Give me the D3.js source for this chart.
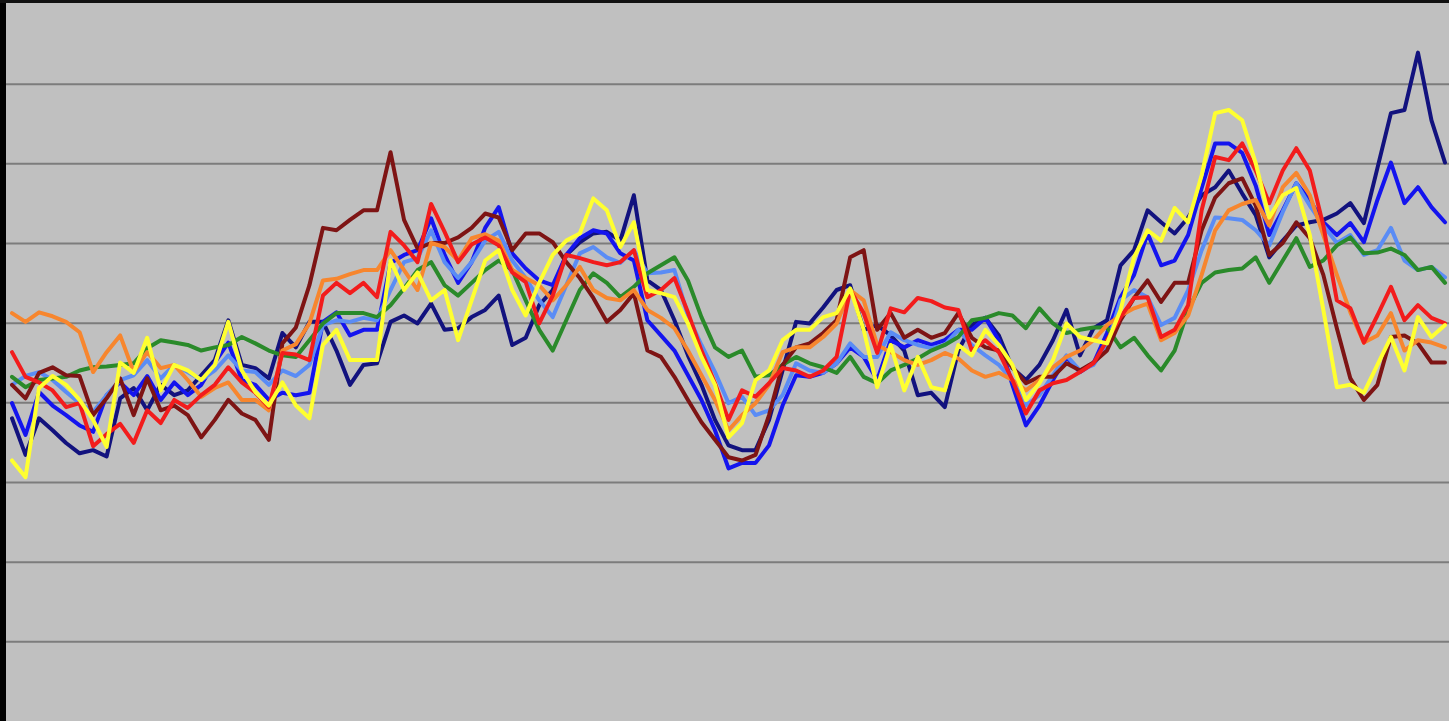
<!DOCTYPE html>
<html><head><meta charset="utf-8">
<script src="https://cdn.jsdelivr.net/npm/d3@7"></script>
<style>html,body{margin:0;padding:0;background:#c0c0c0;overflow:hidden}</style>
</head><body>
<svg id="chart" width="1449" height="721"></svg>
<script>
const gridValues = [1,2,3,4,5,6,7,8];
const seriesNames = ["navy","blue","lightblue","green","darkred","orange","red","yellow"];
const seriesColors = ["#12127e","#1414ee","#5a8cf5","#2a8a2a","#7e1414","#f7862e","#f21c1c","#ffff30"];

const navy = [3.80,3.34,3.80,3.65,3.49,3.36,3.40,3.32,4.05,4.18,3.90,4.22,4.09,4.15,4.34,4.53,5.03,4.47,4.43,4.30,4.87,4.69,5.01,5.01,4.65,4.22,4.47,4.49,5.01,5.09,4.99,5.24,4.91,4.93,5.07,5.16,5.34,4.72,4.81,5.22,5.41,5.85,6.01,6.12,6.14,6.03,6.60,5.53,5.41,5.03,4.59,4.22,3.78,3.46,3.40,3.40,3.78,4.40,5.01,4.99,5.19,5.41,5.47,4.91,4.97,4.84,4.65,4.09,4.12,3.94,4.65,4.97,5.06,4.84,4.43,4.28,4.47,4.78,5.16,4.59,4.93,5.03,5.72,5.91,6.41,6.26,6.12,6.32,6.60,6.70,6.91,6.62,6.35,5.82,6.03,6.22,6.26,6.29,6.37,6.50,6.25,6.94,7.63,7.67,8.39,7.54,7.01];
const blue = [3.99,3.59,4.13,3.96,3.84,3.71,3.63,4.09,4.25,4.09,4.33,4.03,4.25,4.09,4.22,4.50,4.75,4.28,4.22,4.03,4.12,4.09,4.12,5.01,5.13,4.84,4.91,4.91,5.75,5.85,5.91,6.31,5.85,5.50,5.76,6.19,6.45,5.87,5.68,5.53,5.47,5.85,6.06,6.16,6.12,5.87,5.78,5.03,4.84,4.65,4.34,4.03,3.65,3.17,3.24,3.24,3.46,3.96,4.34,4.32,4.37,4.49,4.69,4.57,4.28,4.78,4.69,4.78,4.72,4.78,4.91,4.91,5.06,4.78,4.22,3.71,3.96,4.28,4.57,4.38,4.49,4.87,5.32,5.60,6.12,5.72,5.78,6.10,6.69,7.25,7.25,7.13,6.72,6.10,6.41,6.75,6.54,6.26,6.10,6.25,6.01,6.54,7.01,6.50,6.70,6.45,6.26];
const lightblue = [4.22,4.33,4.38,4.28,4.13,3.99,3.88,4.09,4.28,4.34,4.53,4.30,4.47,4.38,4.28,4.40,4.59,4.40,4.38,4.22,4.40,4.33,4.47,4.97,5.03,5.01,5.06,5.03,5.41,5.76,5.81,6.16,5.76,5.56,5.76,6.03,6.14,5.78,5.56,5.28,5.07,5.47,5.87,5.95,5.82,5.75,5.91,5.62,5.63,5.66,5.09,4.72,4.38,3.99,4.07,3.84,3.90,4.09,4.49,4.40,4.37,4.49,4.74,4.57,4.57,4.88,4.78,4.72,4.68,4.72,4.91,4.72,4.59,4.47,4.28,3.96,4.09,4.34,4.59,4.40,4.47,4.72,5.28,5.41,5.32,4.97,5.06,5.41,5.91,6.32,6.31,6.29,6.16,5.97,6.39,6.75,6.47,6.22,6.00,6.10,5.85,5.91,6.19,5.78,5.66,5.70,5.57];
const green = [4.32,4.19,4.28,4.30,4.32,4.40,4.44,4.45,4.47,4.49,4.68,4.78,4.75,4.72,4.65,4.69,4.72,4.82,4.74,4.65,4.59,4.57,4.78,4.99,5.12,5.12,5.12,5.07,5.22,5.43,5.66,5.76,5.47,5.34,5.50,5.66,5.78,5.66,5.28,4.91,4.65,5.03,5.41,5.62,5.50,5.32,5.45,5.62,5.72,5.82,5.53,5.07,4.69,4.57,4.65,4.32,4.34,4.47,4.57,4.49,4.44,4.37,4.57,4.32,4.24,4.40,4.47,4.55,4.65,4.72,4.82,5.03,5.06,5.12,5.09,4.93,5.18,4.99,4.87,4.91,4.94,4.94,4.69,4.81,4.59,4.40,4.65,5.16,5.50,5.63,5.66,5.68,5.82,5.50,5.78,6.06,5.70,5.78,5.97,6.07,5.87,5.88,5.93,5.85,5.66,5.70,5.50];
const darkred = [4.22,4.05,4.37,4.44,4.34,4.33,3.84,4.05,4.30,3.84,4.30,3.90,3.96,3.84,3.56,3.78,4.03,3.86,3.78,3.53,4.74,4.94,5.47,6.19,6.16,6.29,6.41,6.41,7.14,6.29,5.93,6.00,6.00,6.07,6.19,6.37,6.32,5.91,6.12,6.12,6.01,5.76,5.56,5.31,5.01,5.16,5.37,4.65,4.57,4.32,4.03,3.75,3.53,3.31,3.27,3.34,3.84,4.47,4.69,4.74,4.87,5.03,5.82,5.91,4.91,5.12,4.81,4.91,4.81,4.87,5.12,4.81,4.69,4.65,4.44,4.24,4.32,4.32,4.49,4.40,4.50,4.65,5.03,5.31,5.53,5.26,5.50,5.50,6.16,6.57,6.75,6.81,6.47,5.85,6.00,6.26,6.06,5.60,4.93,4.30,4.03,4.22,4.82,4.84,4.74,4.50,4.50];
const orange = [5.12,5.01,5.13,5.08,5.01,4.88,4.38,4.63,4.84,4.38,4.63,4.43,4.47,4.28,4.07,4.18,4.25,4.03,4.03,3.90,4.65,4.73,4.99,5.53,5.55,5.61,5.66,5.66,5.91,5.66,5.41,6.00,5.95,5.78,6.06,6.11,6.03,5.66,5.56,5.47,5.28,5.47,5.70,5.41,5.31,5.28,5.41,5.16,5.06,4.93,4.65,4.34,4.03,3.65,3.84,3.99,4.22,4.63,4.69,4.69,4.82,4.99,5.41,5.28,4.72,4.63,4.53,4.47,4.53,4.62,4.55,4.40,4.32,4.37,4.28,4.15,4.28,4.44,4.57,4.65,4.78,4.97,5.09,5.18,5.24,4.78,4.87,5.09,5.60,6.16,6.41,6.49,6.54,6.22,6.70,6.88,6.60,6.10,5.60,5.13,4.75,4.84,5.12,4.65,4.78,4.75,4.69];
const red = [4.63,4.32,4.25,4.15,3.94,3.99,3.45,3.60,3.73,3.49,3.90,3.74,4.03,3.93,4.09,4.22,4.44,4.25,4.12,3.94,4.62,4.60,4.53,5.34,5.50,5.37,5.50,5.32,6.14,5.97,5.76,6.49,6.14,5.76,5.98,6.07,5.97,5.63,5.51,4.99,5.34,5.85,5.81,5.76,5.72,5.76,5.91,5.32,5.41,5.56,5.13,4.65,4.24,3.78,4.15,4.07,4.24,4.43,4.40,4.32,4.40,4.57,5.41,5.12,4.62,5.18,5.13,5.31,5.27,5.19,5.16,4.65,4.78,4.63,4.28,3.86,4.15,4.24,4.28,4.38,4.49,4.78,5.07,5.31,5.32,4.82,4.91,5.22,6.41,7.08,7.04,7.25,6.91,6.50,6.91,7.19,6.91,6.22,5.28,5.18,4.75,5.09,5.45,5.03,5.22,5.06,4.99];
const yellow = [3.27,3.06,4.18,4.33,4.22,4.03,3.78,3.44,4.50,4.37,4.81,4.15,4.47,4.40,4.28,4.47,5.01,4.40,4.13,3.96,4.25,3.96,3.80,4.72,4.91,4.53,4.53,4.53,5.78,5.41,5.63,5.28,5.41,4.78,5.28,5.78,5.91,5.41,5.09,5.50,5.85,6.03,6.12,6.56,6.41,5.95,6.26,5.41,5.37,5.32,4.99,4.57,4.22,3.56,3.74,4.28,4.40,4.78,4.91,4.91,5.07,5.12,5.43,4.91,4.19,4.72,4.15,4.57,4.19,4.15,4.72,4.59,4.91,4.72,4.47,4.03,4.24,4.53,4.99,4.82,4.78,4.74,5.16,5.82,6.16,6.03,6.44,6.26,6.85,7.63,7.67,7.54,7.00,6.32,6.60,6.69,6.10,5.16,4.19,4.22,4.12,4.47,4.82,4.40,5.07,4.82,4.97];

const seriesData = [navy, blue, lightblue, green, darkred, orange, red, yellow];

const W = 1449, H = 721;
const svg = d3.select("#chart");
const n = navy.length;
const x = d3.scaleLinear().domain([0, n - 1]).range([12, 1445]);
const y = d3.scaleLinear().domain([0, 9]).range([721, 4]);

svg.append("rect").attr("x",0).attr("y",0).attr("width",W).attr("height",H).attr("fill","#c0c0c0");

const yAxis = d3.axisLeft(y).tickValues(gridValues).tickSize(-(W - 6)).tickFormat("");
const g = svg.append("g").attr("transform","translate(6,0)").call(yAxis);
g.select(".domain").remove();
g.selectAll(".tick line").attr("stroke","#7c7c7c").attr("stroke-width",2);

const line = d3.line().x((d,i)=>x(i)).y(d=>y(d));
seriesData.forEach((arr, k) => {
  svg.append("path").datum(arr)
    .attr("fill","none")
    .attr("stroke", seriesColors[k])
    .attr("stroke-width", 4)
    .attr("stroke-linejoin","round")
    .attr("stroke-linecap","round")
    .attr("class","series " + seriesNames[k])
    .attr("d", line);
});

// frame: black left and top borders
svg.append("rect").attr("x",0).attr("y",0).attr("width",6).attr("height",H).attr("fill","#000");
svg.append("rect").attr("x",0).attr("y",0).attr("width",W).attr("height",3).attr("fill","#111");
</script>
</body></html>
